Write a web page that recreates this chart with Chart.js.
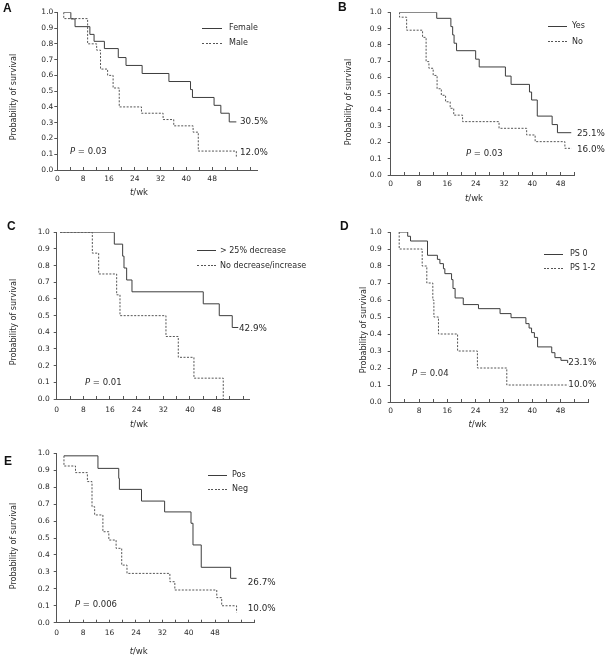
<!DOCTYPE html>
<html><head><meta charset="utf-8">
<script src="https://cdn.jsdelivr.net/npm/chart.js@4.4.0/dist/chart.umd.min.js"></script>
<style>
body{margin:0;background:#fff;width:607px;height:657px;position:relative;overflow:hidden;font-family:'DejaVu Sans',Verdana,sans-serif;color:#2a2a2a}
canvas{position:absolute}
.t{position:absolute;white-space:nowrap;line-height:1;transform:translateY(-50%);}
.yt{position:absolute;white-space:nowrap;line-height:1;font-size:8px;transform:translate(-50%,-50%) rotate(-90deg);}
.ls{position:absolute;height:1px;}
</style></head><body>
<script>
// ---- tick values / labels ----
const xTickValues = [0,4,8,12,16,20,24,28,32,36,40,44,48,52,56,60];
const xLabelValues = [0,8,16,24,32,40,48];
const yTickValues = [0,0.1,0.2,0.3,0.4,0.5,0.6,0.7,0.8,0.9,1.0];
const yTickLabels = ['0.0','0.1','0.2','0.3','0.4','0.5','0.6','0.7','0.8','0.9','1.0'];

// ---- Panel A: sex ----
const aFemaleT = [2,4.2,5.5,10.1,11.4,14.6,18.9,21.3,26.3,34.6,41.3,41.9,48.6,50.7,53.3,55.5];
const aFemaleS = [1.0,0.958,0.909,0.86,0.816,0.77,0.713,0.663,0.612,0.561,0.51,0.46,0.41,0.36,0.305,0.305];
const aMaleT = [2,2,9.4,12.2,13.4,15.6,17.3,19.2,26.1,32.8,36.1,42.1,43.7,55.5,55.5];
const aMaleS = [1.0,0.96,0.80,0.76,0.64,0.60,0.52,0.40,0.36,0.32,0.28,0.24,0.12,0.12,0.085];

// ---- Panel B: yes / no ----
const bYesT = [2.5,13.0,17.0,17.5,17.9,18.6,24.0,25.0,32.4,34.0,39.2,39.8,41.4,45.6,47.1,51.0];
const bYesS = [1.0,0.963,0.912,0.861,0.81,0.764,0.712,0.664,0.608,0.557,0.51,0.461,0.362,0.31,0.26,0.26];
const bNoT = [2.5,2.5,4.5,9.0,10.0,10.8,12.0,13.1,14.3,15.5,16.8,17.8,20.3,30.6,38.4,40.8,49.2,51.1];
const bNoS = [1.0,0.97,0.89,0.846,0.697,0.656,0.612,0.53,0.49,0.45,0.41,0.368,0.328,0.287,0.246,0.205,0.164,0.164];

// ---- Panel C: decrease ----
const cDecT = [1,17.3,19.8,20.2,21.0,22.6,44.0,48.8,52.7,54.5];
const cDecS = [1.0,0.929,0.857,0.786,0.714,0.643,0.571,0.5,0.429,0.429];
const cNoT = [1,10.7,12.6,18.0,19.0,32.8,36.5,41.2,50.0];
const cNoS = [1.0,0.875,0.75,0.625,0.5,0.375,0.25,0.125,0];

// ---- Panel D: PS ----
const dPs0T = [2.4,4.8,5.6,10.4,13.2,13.9,14.9,15.3,17.2,17.6,18.2,20.5,24.8,30.9,34.0,38.2,39.1,39.8,40.6,41.5,45.5,46.4,48.1,50.0,50.0];
const dPs0S = [1.0,0.975,0.947,0.863,0.839,0.814,0.784,0.755,0.72,0.668,0.612,0.573,0.549,0.52,0.496,0.461,0.435,0.408,0.38,0.324,0.29,0.261,0.245,0.245,0.229];
const dPs12T = [2.4,2.4,8.9,10.2,11.9,12.2,13.5,18.9,24.5,32.8,50.2];
const dPs12S = [1.0,0.9,0.8,0.7,0.6,0.5,0.4,0.3,0.2,0.1,0.1];

// ---- Panel E: pos / neg ----
const ePosT = [2.2,12.5,18.8,19.0,25.7,32.7,40.7,41.3,43.8,52.7,54.5];
const ePosS = [0.985,0.911,0.852,0.787,0.718,0.654,0.587,0.459,0.327,0.262,0.262];
const eNegT = [2.2,2.2,5.7,9.3,10.7,11.5,14.0,15.8,18.0,19.7,21.3,34.3,35.8,48.5,50.0,54.5,54.5];
const eNegS = [0.985,0.925,0.886,0.833,0.685,0.636,0.537,0.488,0.439,0.34,0.291,0.242,0.193,0.148,0.1,0.1,0.06];

// ---- styling ----
const SOLID = '#3d3d3d', DASHED = '#555', AXIS = '#555', TXT = '#2a2a2a';
const tickFont = {family:"'DejaVu Sans', Verdana, sans-serif", size:7.5};

function addText(x, y, html, size, extra) {
  const d = document.createElement('div');
  d.className = 't';
  d.style.left = x + 'px'; d.style.top = y + 'px'; d.style.fontSize = size + 'px';
  if (extra) Object.assign(d.style, extra);
  d.innerHTML = html;
  document.body.appendChild(d);
  return d;
}
function addYTitle(x, y) {
  const d = document.createElement('div');
  d.className = 'yt'; d.style.left = x + 'px'; d.style.top = y + 'px';
  d.textContent = 'Probability of survival';
  document.body.appendChild(d);
}
function addSample(x1, x2, y, dashed) {
  const d = document.createElement('div');
  d.className = 'ls';
  d.style.left = x1 + 'px'; d.style.top = (y - 0.5) + 'px'; d.style.width = (x2 - x1) + 'px';
  d.style.background = dashed ? 'repeating-linear-gradient(to right,' + DASHED + ' 0 2px, transparent 2px 3.5px)' : SOLID;
  document.body.appendChild(d);
}

function makePanel(p, sets) {
  const cv = document.createElement('canvas');
  cv.width = p.w; cv.height = p.h;
  cv.style.left = p.x + 'px'; cv.style.top = p.y + 'px';
  document.body.appendChild(cv);
  new Chart(cv, {
    type: 'line',
    data: {
      datasets: sets.map(s => ({
        data: s.t.map((t, i) => ({x: t, y: s.s[i]})),
        borderColor: s.dashed ? DASHED : SOLID,
        borderWidth: 1,
        borderDash: s.dashed ? [2, 1.5] : [],
        stepped: 'before',
        pointRadius: 0,
        fill: false
      }))
    },
    options: {
      responsive: false, animation: false, devicePixelRatio: 1,
      layout: {autoPadding: false, padding: {left: 0, bottom: 0, top: p.area.t - p.y, right: p.x + p.w - p.area.r}},
      plugins: {legend: {display: false}, tooltip: {enabled: false}},
      scales: {
        x: {
          type: 'linear', min: 0, max: p.xmax,
          border: {color: AXIS, width: 1},
          grid: {drawOnChartArea: false, color: AXIS, tickLength: -3},
          ticks: {autoSkip: false, maxRotation: 0, padding: p.xpad, font: tickFont, color: TXT,
                  callback: v => xLabelValues.includes(v) ? String(v) : ''},
          afterBuildTicks: s => { s.ticks = xTickValues.filter(v => v <= p.xmax).map(v => ({value: v})); },
          afterFit: s => { s.height = p.y + p.h - p.area.b; }
        },
        y: {
          type: 'linear', min: 0, max: 1,
          border: {color: AXIS, width: 1},
          grid: {drawOnChartArea: false, color: AXIS, tickLength: 3},
          ticks: {padding: p.ypad, font: tickFont, color: TXT, callback: (v, i) => yTickLabels[i]},
          afterBuildTicks: s => { s.ticks = yTickValues.map(v => ({value: v})); },
          afterFit: s => { s.width = p.area.l - p.x; }
        }
      }
    }
  });
}

// ---- panels ----
makePanel({x:0, y:0, w:300, h:205, area:{l:57.3, r:257.3, t:12.3, b:170}, xmax:62, ypad:1, xpad:8},
  [{t:aFemaleT, s:aFemaleS}, {t:aMaleT, s:aMaleS, dashed:true}]);
makePanel({x:300, y:0, w:307, h:205, area:{l:390.7, r:574.8, t:12.3, b:175}, xmax:52, ypad:6, xpad:7.5},
  [{t:bYesT, s:bYesS}, {t:bNoT, s:bNoS, dashed:true}]);
makePanel({x:0, y:215, w:300, h:215, area:{l:56.7, r:249.9, t:232.3, b:399}, xmax:58, ypad:4, xpad:10},
  [{t:cDecT, s:cDecS}, {t:cNoT, s:cNoS, dashed:true}]);
makePanel({x:300, y:215, w:307, h:215, area:{l:390.7, r:588.9, t:232, b:402}, xmax:56, ypad:6, xpad:8},
  [{t:dPs0T, s:dPs0S}, {t:dPs12T, s:dPs12S, dashed:true}]);
makePanel({x:0, y:438, w:300, h:219, area:{l:56.7, r:254.7, t:453.3, b:622.7}, xmax:60, ypad:4, xpad:9},
  [{t:ePosT, s:ePosS}, {t:eNegT, s:eNegS, dashed:true}]);

// ---- panel letters ----
const bold = {fontWeight:'bold', color:'#111', fontFamily:"'Liberation Sans', Arial, sans-serif"};
addText(3, 7.5, 'A', 12, bold);
addText(338, 6.7, 'B', 12, bold);
addText(7, 225.8, 'C', 12, bold);
addText(340, 225.5, 'D', 12, bold);
addText(4, 460.5, 'E', 12, bold);

// ---- y titles ----
addYTitle(14, 96.7);
addYTitle(349, 102);
addYTitle(14, 321.7);
addYTitle(364, 330);
addYTitle(14, 545.7);

// ---- x titles ----
const xt = '<i>t</i>/wk';
[[139,192],[474,198],[139,424.3],[477.5,424.3],[138.7,650.7]].forEach(([x,y]) => {
  const d = addText(x, y, xt, 8.5); d.style.transform = 'translate(-50%,-50%)';
});

// ---- legends ----
addSample(202, 222, 28.3, false); addText(229, 28.3, 'Female', 8);
addSample(202, 222, 43.3, true);  addText(229, 43.3, 'Male', 8);
addSample(547.5, 566.5, 26, false); addText(572, 26, 'Yes', 8);
addSample(547.5, 566.5, 41.5, true); addText(572, 41.5, 'No', 8);
addSample(197, 216, 250.5, false); addText(220, 250.5, '&gt; 25% decrease', 8);
addSample(197, 216, 265.5, true);  addText(220, 265.5, 'No decrease/increase', 8);
addSample(544, 563, 254.3, false); addText(570, 254.3, 'PS 0', 8);
addSample(544, 563, 268.3, true);  addText(570, 268.3, 'PS 1-2', 8);
addSample(208.3, 226.7, 475, false); addText(232, 475, 'Pos', 8);
addSample(208.3, 226.7, 489.3, true); addText(232, 489.3, 'Neg', 8);

// ---- P values ----
addText(70, 151, '<i>P</i> = 0.03', 8.5);
addText(466, 153, '<i>P</i> = 0.03', 8.5);
addText(85, 381.7, '<i>P</i> = 0.01', 8.5);
addText(412, 372.5, '<i>P</i> = 0.04', 8.5);
addText(75, 604.3, '<i>P</i> = 0.006', 8.5);

// ---- end percentages ----
addText(240, 120.5, '30.5%', 8.8);
addText(240, 152.2, '12.0%', 8.8);
addText(577, 132.7, '25.1%', 8.8);
addText(577, 149.2, '16.0%', 8.8);
addText(239, 328.3, '42.9%', 8.8);
addText(568.3, 361.7, '23.1%', 8.8);
addText(568.3, 384.3, '10.0%', 8.8);
addText(247.7, 581.7, '26.7%', 8.8);
addText(247.7, 608.3, '10.0%', 8.8);
</script>
</body></html>
